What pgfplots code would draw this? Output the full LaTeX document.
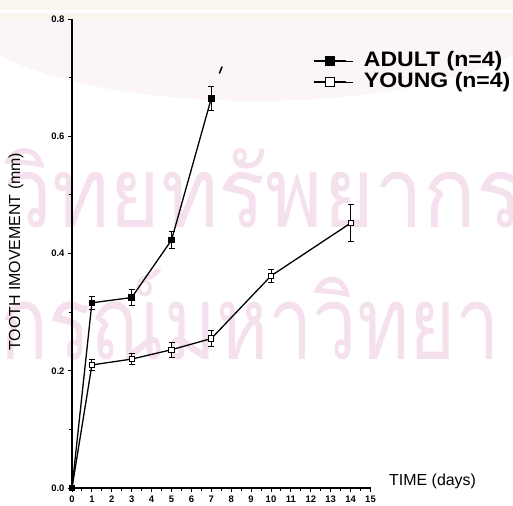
\documentclass[border=0pt]{standalone}
\usepackage{fontspec}
\setmainfont{Liberation Sans}
\newfontfamily\thaifont[Script=Thai]{Loma}
\newfontfamily\legfont[FakeStretch=1.1]{Liberation Sans}
\usepackage{pgfplots}
\pgfplotsset{compat=1.18}
\definecolor{wm}{RGB}{245,225,237}
\definecolor{band}{RGB}{251,246,238}
\definecolor{blush}{RGB}{251,244,248}

\pgfplotstableread{
x y e
0 0 0
1 0.316 0.011
3 0.325 0.014
5 0.423 0.015
7 0.665 0.020
}\adult
\pgfplotstableread{
x y e
0 0 0
1 0.210 0.009
3 0.220 0.009
5 0.236 0.013
7 0.255 0.014
10 0.362 0.011
14 0.452 0.031
}\young

\pgfplotsset{
  adultline/.style={black, line width=1.3bp, mark=square*, mark size=2.8bp, mark options={fill=black, line width=1bp}},
  youngline/.style={black, line width=1.3bp, mark=square*, mark size=2.6bp, mark options={fill=white, line width=1bp}},
}

\begin{document}
\begin{tikzpicture}
\begin{scope}[x=1bp,y=1bp]
\begin{scope}
\clip (0,0) rectangle (513,506);
\fill[blush] (256,500) ellipse [x radius=300, y radius=95];
\fill[band] (0,487) rectangle (513,506);
\fill[white] (0,493) rectangle (513,495.5);
\node[anchor=base west, inner sep=0, text=wm] at (3,279) {\resizebox{520bp}{79bp}{\thaifont วิทยทรัพยากร}};
\node[anchor=base west, inner sep=0, text=wm] at (0,146) {\resizebox{500bp}{90bp}{\thaifont กรณ์มหาวิทยา}};
\end{scope}
\end{scope}

\begin{axis}[
  at={(72bp,18bp)}, anchor=origin,
  x=19.9bp, y=586bp,
  xmin=0, xmax=15, ymin=0, ymax=0.8,
  clip=false,
  axis lines*=left,
  axis line style={line width=1.5bp},
  xtick={0,...,15}, minor x tick num=1,
  ytick={0,0.2,0.4,0.6,0.8}, minor y tick num=1,
  tick align=outside,
  major tick length=4bp, minor tick length=3bp,
  tick style={line width=1bp, black},
  /pgf/number format/assume math mode=true,
  yticklabel style={/pgf/number format/fixed, /pgf/number format/fixed zerofill, /pgf/number format/precision=1},
  ticklabel style={font=\fontsize{9.5}{10}\selectfont\bfseries},
  xlabel={TIME (days)},
  ylabel={TOOTH IMOVEMENT (mm)},
  label style={font=\fontsize{16}{18}\selectfont},
  xlabel style={at={(axis description cs:1.062,0.015)}, anchor=west, inner sep=0},
  ylabel style={at={(axis description cs:-0.1876,0.504)}, anchor=center, inner sep=0},
  legend cell align=left,
  legend image code/.code={
    \path (0bp,0bp) -- (39bp,0bp);
    \draw[#1, line width=2.2bp] (0bp,0bp) -- (32bp,0bp);
    \draw[#1, line width=1.6bp, mark size=4.5bp] plot coordinates {(16bp,0bp)};
  },
  legend style={at={(axis description cs:0.8075,0.888)}, anchor=west, draw=none, fill=none, inner sep=0,
    font=\legfont\fontsize{21}{22}\selectfont\bfseries,
    nodes={inner xsep=10bp, inner ysep=0bp, text height=15bp, text depth=4bp},
    row sep=2bp},
]
\addplot[youngline, forget plot, error bars/.cd, y dir=both, y explicit,
  error bar style={line width=1bp}, error mark options={rotate=90, mark size=3bp, line width=1bp}]
  table[x=x, y=y, y error=e] {\young};
\addplot[adultline, error bars/.cd, y dir=both, y explicit,
  error bar style={line width=1bp}, error mark options={rotate=90, mark size=3bp, line width=1bp}]
  table[x=x, y=y, y error=e] {\adult};
\addlegendentry{ADULT (n=4)}
\addlegendimage{youngline}
\addlegendentry{YOUNG (n=4)}
\end{axis}
\draw[line width=1.6bp, line cap=round] (219.5bp,433bp) -- (222bp,439bp);
\pgfresetboundingbox
\path[use as bounding box] (0bp,0bp) rectangle (513bp,506bp);
\end{tikzpicture}
\end{document}
